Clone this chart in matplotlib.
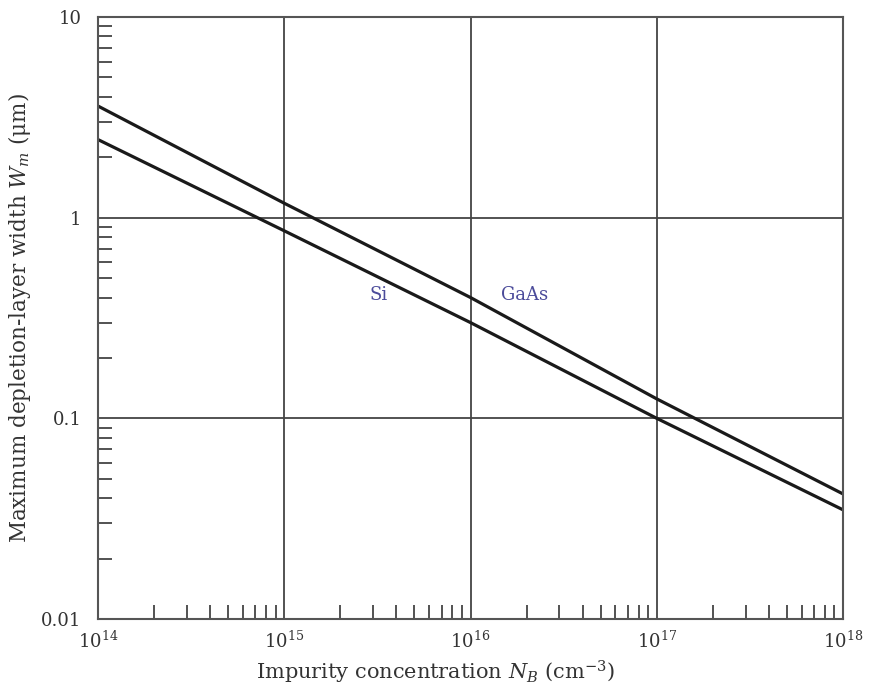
import matplotlib
matplotlib.use("Agg")
import matplotlib.pyplot as plt
from matplotlib.ticker import LogLocator, NullFormatter, FixedLocator

plt.rcParams['font.family'] = ['DejaVu Serif']
plt.rcParams['mathtext.fontset'] = 'dejavuserif'

# impurity concentration (cm^-3) and max depletion width (um)
conc = [1e14, 1e15, 1e16, 1e17, 1e18]
w_gaas = [3.6, 1.18, 0.40, 0.125, 0.042]
w_si = [2.45, 0.86, 0.30, 0.10, 0.035]

xticks = [1e14, 1e15, 1e16, 1e17, 1e18]
xlabels = [r'$10^{14}$', r'$10^{15}$', r'$10^{16}$', r'$10^{17}$', r'$10^{18}$']
yticks = [0.01, 0.1, 1, 10]
ylabels = ['0.01', '0.1', '1', '10']

fig = plt.figure(figsize=(8.71, 6.93), dpi=100)
ax = fig.add_axes([98 / 871, 1 - 619 / 693, 745 / 871, 602 / 693])

ax.plot(conc, w_gaas, color='#1a1a1a', lw=2.3)
ax.plot(conc, w_si, color='#1a1a1a', lw=2.3)

ax.set_xscale('log')
ax.set_yscale('log')
ax.set_xlim(1e14, 1e18)
ax.set_ylim(0.01, 10)

ax.xaxis.set_major_locator(FixedLocator(xticks))
ax.set_xticklabels(xlabels)
ax.yaxis.set_major_locator(FixedLocator(yticks))
ax.set_yticklabels(ylabels)
ax.xaxis.set_minor_locator(LogLocator(base=10, subs=range(2, 10), numticks=20))
ax.yaxis.set_minor_locator(LogLocator(base=10, subs=range(2, 10), numticks=20))
ax.xaxis.set_minor_formatter(NullFormatter())
ax.yaxis.set_minor_formatter(NullFormatter())

ax.tick_params(which='major', length=0, labelsize=13, colors='#333333')
ax.tick_params(axis='x', which='major', pad=8)
ax.tick_params(axis='y', which='major', pad=12)
ax.tick_params(which='minor', direction='in', length=10, width=1.3, color='#444444')
ax.grid(True, which='major', color='#444444', lw=1.3)

for s in ax.spines.values():
    s.set_color('#555555')
    s.set_linewidth(1.5)

ax.text(3.2e15, 0.41, 'Si', color='#4b4b9a', fontsize=13, ha='center', va='center')
ax.text(1.95e16, 0.41, 'GaAs', color='#4b4b9a', fontsize=13, ha='center', va='center')

ax.set_xlabel(r'Impurity concentration $N_B$ (cm$^{-3}$)', fontsize=15, color='#333333', labelpad=2)
ax.xaxis.set_label_coords(0.453, -0.066)
ax.set_ylabel(r'Maximum depletion-layer width $W_m$ ($\mathrm{\mu}$m)', fontsize=15.5, color='#333333', labelpad=6)

fig.savefig('out.png', dpi=100)
